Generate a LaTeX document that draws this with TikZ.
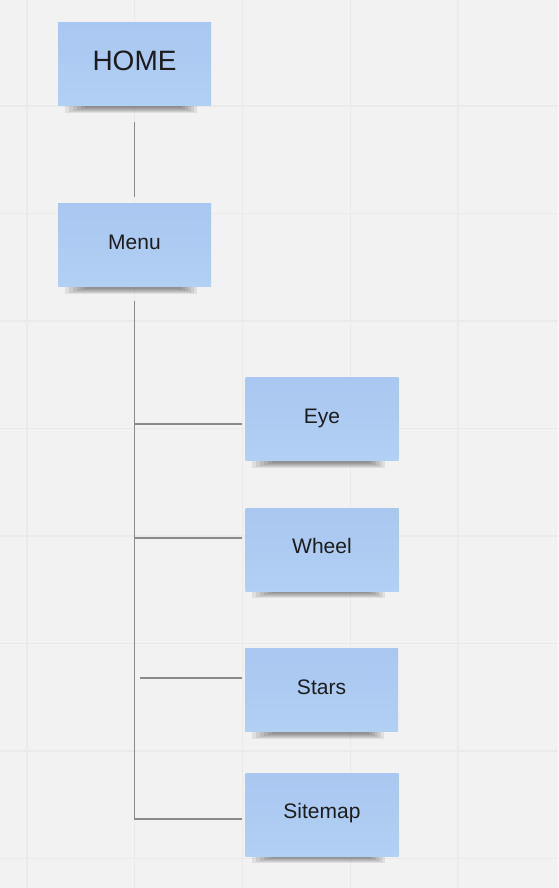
\documentclass[tikz,border=0pt]{standalone}
\usepackage{fontspec}
\setmainfont{Liberation Sans}
\usetikzlibrary{backgrounds}
\definecolor{board}{HTML}{F2F2F2}
\definecolor{gridline}{HTML}{EAEAEA}
\definecolor{notetop}{HTML}{A9C7F0}
\definecolor{notebot}{HTML}{B2CFF4}
\definecolor{wire}{HTML}{8A8A8A}
\definecolor{ink}{HTML}{1C1C1C}
\tikzset{
  note/.style={rectangle, minimum width=153pt, minimum height=83pt, inner sep=0pt,
    top color=notetop, bottom color=notebot, text=ink,
    font=\fontsize{21}{25}\selectfont, text height=10pt, text depth=2pt},
  bignote/.style={note, font=\fontsize{28}{33}\selectfont, text height=14pt, text depth=2pt},
  link/.style={draw=wire, line width=1.1pt},
}
% soft shadow under the bottom edge of a note
\newcommand\noteshadow[1]{%
  \foreach \s in {0,...,5}{%
    \fill[black, opacity=0.08] ([xshift={(7+4*\s)*1pt}, yshift=2pt]#1.south west)
      rectangle ([xshift={(-14-3*\s)*1pt}, yshift={(-7+\s)*1pt}]#1.south east);
  }}
\begin{document}
\begin{tikzpicture}[x=1pt, y=-1pt]
	\useasboundingbox (0,0) rectangle (558,888);
	% notes
	\node[bignote] (home)    at (134.5,64.5) {HOME};
	\node[note]    (menu)    at (134.5,245)  {Menu};
	\node[note]    (eye)     at (322,419)    {Eye};
	\node[note]    (wheel)   at (322,549.5)  {Wheel};
	\node[note]    (stars)   at (321.5,690)  {Stars};
	\node[note]    (sitemap) at (322,814.5)  {Sitemap};

	% links
	\draw[link, shorten <=16pt, shorten >=6pt] (home) -- (menu);
	\coordinate (trunk)     at ([yshift=-14pt]menu.south);
	\coordinate (eyeIn)     at ([yshift=-5pt]eye.west);
	\coordinate (wheelIn)   at ([yshift=11.5pt]wheel.west);
	\coordinate (starsIn)   at ([yshift=12pt]stars.west);
	\coordinate (sitemapIn) at ([yshift=-4.5pt]sitemap.west);
	\draw[link, shorten >=3.5pt] (trunk) |- (sitemapIn);
	\foreach \leaf in {eyeIn,wheelIn}{\draw[link, shorten >=3.5pt] (trunk |- \leaf) -- (\leaf);}
	\draw[link, shorten <=5.5pt, shorten >=3pt] (trunk |- starsIn) -- (starsIn);

	\begin{pgfonlayer}{background}
		\fill[board] (0,0) rectangle (558,888);
		\foreach \x in {0,...,4}{\draw[gridline, line width=1.3pt] ({27+107.75*\x},0) -- ({27+107.75*\x},888);}
		\foreach \y in {0,...,7}{\draw[gridline, line width=1.3pt] (0,{106+107.5*\y}) -- (558,{106+107.5*\y});}
		\foreach \n in {home,menu,eye,wheel,stars,sitemap}{\noteshadow{\n}}
	\end{pgfonlayer}
\end{tikzpicture}
\end{document}
